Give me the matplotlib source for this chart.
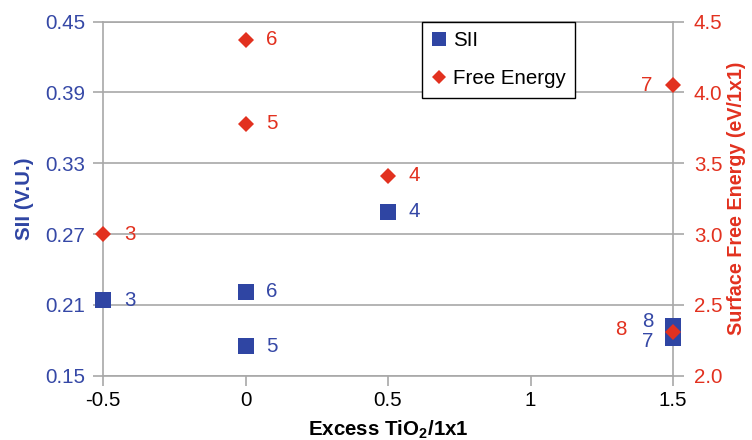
import matplotlib
matplotlib.use("Agg")
import matplotlib.pyplot as plt
from matplotlib.lines import Line2D

plt.rcParams['font.family'] = ['Liberation Sans', 'DejaVu Sans']
plt.rcParams['mathtext.fontset'] = 'custom'
plt.rcParams['mathtext.rm'] = 'Liberation Sans'
plt.rcParams['mathtext.bf'] = 'Liberation Sans:bold'

# Excess TiO2 per 1x1 cell, one entry per structure
excess = [-0.5, 0.0, 0.0, 0.5, 1.5, 1.5]
structure = ['3', '6', '5', '4', '7', '8']
sii = [0.214, 0.221, 0.175, 0.289, 0.182, 0.192]
free_energy = [3.00, 4.37, 3.78, 3.41, 4.05, 2.31]

sii_ticks = [0.15, 0.21, 0.27, 0.33, 0.39, 0.45]
fe_ticks = [2.0, 2.5, 3.0, 3.5, 4.0, 4.5]
x_ticks = [-0.5, 0, 0.5, 1, 1.5]
x_ticklabels = ['-0.5', '0', '0.5', '1', '1.5']

BLUE = '#2F45A3'
BLUE_TXT = '#3548A6'
RED = '#E2311F'
GRID = '#A8A8A8'
FS = 14.8

fig = plt.figure(figsize=(7.52, 4.40), dpi=100)
ax = fig.add_axes([0.137, 0.146, 0.758, 0.805])
ax2 = ax.twinx()

ax.set_xlim(-0.5, 1.5)
ax.set_ylim(0.15, 0.45)
ax2.set_ylim(2.0, 4.5)

ax.set_xticks(x_ticks)
ax.set_xticklabels(x_ticklabels)
ax.set_yticks(sii_ticks)
ax.set_yticklabels([f'{t:.2f}' for t in sii_ticks])
ax2.set_yticks(fe_ticks)
ax2.set_yticklabels([f'{t:.1f}' for t in fe_ticks])

ax.grid(axis='y', color=GRID, linewidth=1.2, zorder=0)
ax.grid(axis='x', visible=False)
ax.set_axisbelow(True)

for s in ax.spines.values():
    s.set_color(GRID)
    s.set_linewidth(1.2)
for s in ax2.spines.values():
    s.set_visible(False)

ax.tick_params(axis='x', colors=GRID, labelcolor='black', length=7, width=1.2,
               labelsize=FS, pad=4)
ax.tick_params(axis='y', colors=GRID, labelcolor=BLUE_TXT, length=7, width=1.2,
               labelsize=FS, pad=6)
ax2.tick_params(axis='y', colors=GRID, labelcolor=RED, length=8, width=1.2,
                labelsize=FS, pad=7)

ax.plot(excess, sii, linestyle='none', marker='s', markersize=11.9,
        markeredgewidth=0, color=BLUE, clip_on=False, zorder=3)
ax2.plot(excess, free_energy, linestyle='none', marker='D', markersize=8.5,
         markeredgewidth=0, color=RED, clip_on=False, zorder=3)

# label placement (points): to the right by default, left at the right edge
blue_offsets = {'7': (-14.4, -2.2), '8': (-14.4, 3.6)}
red_offsets = {'7': (-14.8, 0.0), '8': (-33.8, 2.0)}

for xv, yv, lab in zip(excess, sii, structure):
    dx, dy = blue_offsets.get(lab, (15, 0))
    ax.annotate(lab, (xv, yv), xytext=(dx, dy), textcoords='offset points',
                ha='left' if dx > 0 else 'right', va='center',
                color=BLUE_TXT, fontsize=FS, annotation_clip=False)
for xv, yv, lab in zip(excess, free_energy, structure):
    dx, dy = red_offsets.get(lab, (15, 0))
    ax2.annotate(lab, (xv, yv), xytext=(dx, dy), textcoords='offset points',
                 ha='left' if dx > 0 else 'right', va='center',
                 color=RED, fontsize=FS, annotation_clip=False)

ax.set_xlabel('Excess TiO$_\\mathbf{2}$/1x1', fontsize=FS, fontweight='bold',
              labelpad=6)
ax.set_ylabel('SII (V.U.)', fontsize=FS, fontweight='bold', color=BLUE,
              labelpad=8)
ax2.set_ylabel('Surface Free Energy (eV/1x1)', fontsize=14.2, fontweight='bold',
               color=RED, labelpad=3)

handles = [
    Line2D([], [], linestyle='none', marker='s', markersize=9.5,
           markeredgewidth=0, color=BLUE, label='SII'),
    Line2D([], [], linestyle='none', marker='D', markersize=7,
           markeredgewidth=0, color=RED, label='Free Energy'),
]
leg = ax2.legend(handles=handles, loc='upper left', bbox_to_anchor=(0.5596, 1.0),
                 borderaxespad=0, fontsize=FS, frameon=True, fancybox=False,
                 framealpha=1, edgecolor='black', handlelength=0.8,
                 handletextpad=0.25, labelspacing=0.95, borderpad=0.45)
leg.get_frame().set_linewidth(1.0)
leg.set_zorder(10)

fig.savefig('out.png', dpi=100)
